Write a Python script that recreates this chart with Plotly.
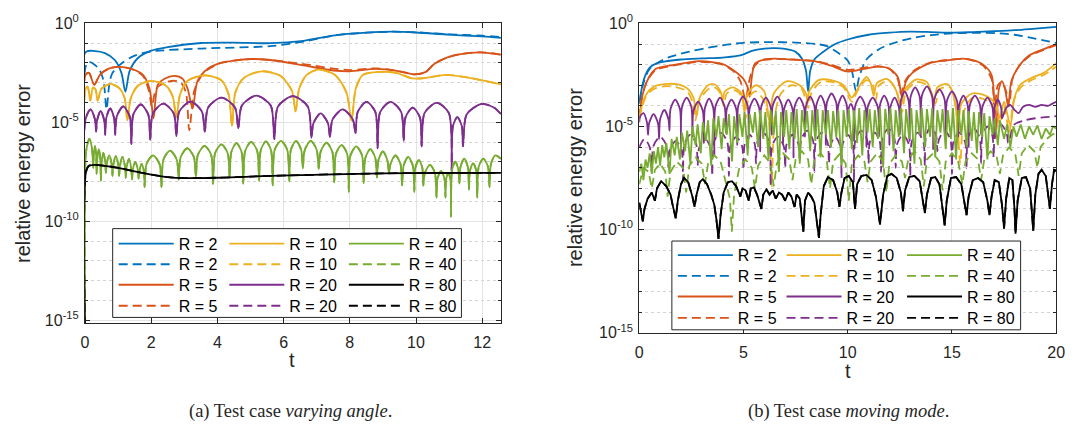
import numpy as np
import plotly.graph_objects as go

W, H = 1080, 440

# ---------------- DATA: (t, log10 of relative energy error) ----------------
# (a) Test case "varying angle"
A_R2_SOLID = [(0,-16),(0.02,-1.45),(0.3,-1.4),(0.6,-1.5),(0.9,-1.85),(1.1,-2.5),(1.22,-3.46),(1.35,-2.4),(1.6,-1.75),(2.0,-1.38),(2.5,-1.2),(3.5,-0.99),(4.5,-0.97),(5.6,-1.0),(6.6,-0.88),(7.55,-0.6),(8.5,-0.47),(9.3,-0.42),(10.0,-0.46),(11.0,-0.57),(12.0,-0.66),(12.566,-0.73)]
A_R2_DASH = [(0,-16),(0.02,-2.18),(0.12,-1.95),(0.3,-2.1),(0.44,-2.35),(0.56,-2.9),(0.65,-4.34),(0.74,-3.0),(0.83,-2.5),(1.13,-1.99),(1.5,-1.63),(2.0,-1.42),(3.5,-1.27),(5.6,-1.15),(6.6,-0.92),(7.55,-0.6),(8.5,-0.47),(9.3,-0.42),(10.0,-0.45),(11.0,-0.55),(12.0,-0.62),(12.566,-0.69)]
A_R5_SOLID = [(0,-16),(0.02,-2.6),(0.12,-2.5),(0.28,-3.1),(0.45,-2.6),(0.7,-2.3),(1.0,-2.2),(1.4,-2.3),(1.75,-2.6),(1.95,-3.3),(2.07,-4.8),(2.2,-3.1),(2.4,-2.8),(2.7,-2.65),(2.95,-2.8),(3.1,-3.3),(3.25,-4.3),(3.4,-2.9),(3.7,-2.3),(4.1,-2.0),(4.5,-1.88),(5.0,-1.8),(5.6,-1.85),(6.6,-2.12),(7.5,-2.38),(8.0,-2.42),(8.8,-2.3),(9.5,-2.42),(9.95,-2.58),(10.3,-2.45),(10.55,-2.05),(10.95,-1.72),(11.35,-1.55),(11.95,-1.46),(12.566,-1.58)]
A_R5_DASH = [(0,-16),(0.02,-2.6),(0.12,-2.5),(0.28,-3.1),(0.45,-2.6),(0.7,-2.3),(1.0,-2.2),(1.4,-2.3),(1.75,-2.65),(1.93,-3.4),(2.02,-4.2),(2.15,-3.3),(2.4,-3.0),(2.7,-2.9),(2.9,-3.0),(3.05,-3.5),(3.15,-5.4),(3.3,-3.4),(3.5,-2.7),(3.7,-2.35),(4.1,-2.0),(4.5,-1.88),(5.0,-1.8),(5.6,-1.85),(6.6,-2.06),(7.5,-2.28),(8.0,-2.36),(8.8,-2.27),(9.5,-2.42),(9.95,-2.58),(10.3,-2.45),(10.55,-2.05),(10.95,-1.72),(11.35,-1.55),(11.95,-1.46),(12.566,-1.58)]
A_R10 = [(0,-16),(0.02,-3.3),(0.08,-3.2),(0.16,-3.9),(0.24,-3.25),(0.32,-3.35),(0.38,-3.9),(0.5,-3.3),(0.78,-3.06),(1.05,-3.3),(1.2,-3.8),(1.28,-4.9),(1.38,-3.8),(1.6,-3.15),(2.02,-2.9),(2.45,-3.15),(2.65,-3.7),(2.76,-4.74),(2.87,-3.6),(3.1,-2.9),(3.6,-2.63),(4.1,-2.85),(4.34,-3.6),(4.44,-5.2),(4.54,-3.5),(4.8,-2.75),(5.35,-2.42),(5.9,-2.65),(6.25,-3.4),(6.36,-4.45),(6.47,-3.3),(6.7,-2.6),(7.05,-2.34),(7.55,-2.6),(7.9,-3.5),(8.05,-4.9),(8.18,-3.3),(8.4,-2.6),(8.9,-2.45),(9.4,-2.5),(9.9,-2.78),(10.3,-2.75),(10.9,-2.6),(11.5,-2.72),(12.0,-2.88),(12.566,-3.08)]
A_R20 = [(0,-16),(0.02,-4.82),(0.17,-4.35),(0.3,-4.85),(0.335,-5.47),(0.365,-4.9),(0.47,-4.42),(0.58,-4.9),(0.61,-5.63),(0.64,-4.8),(0.76,-4.3),(0.88,-4.8),(0.91,-5.63),(0.96,-4.7),(1.155,-4.2),(1.35,-4.7),(1.4,-6.1),(1.46,-4.6),(1.685,-4.1),(1.91,-4.6),(1.97,-5.87),(2.05,-4.55),(2.365,-4.05),(2.68,-4.55),(2.76,-5.7),(2.85,-4.45),(3.19,-3.95),(3.53,-4.45),(3.62,-5.47),(3.72,-4.25),(4.125,-3.75),(4.53,-4.25),(4.63,-5.3),(4.74,-4.15),(5.175,-3.65),(5.61,-4.15),(5.72,-5.85),(5.83,-4.2),(6.28,-3.68),(6.73,-4.2),(6.84,-5.78),(6.9,-5.05),(7.12,-4.55),(7.34,-5.05),(7.4,-5.74),(7.48,-4.85),(7.785,-4.35),(8.09,-4.85),(8.17,-5.55),(8.24,-4.47),(8.505,-3.97),(8.77,-4.47),(8.84,-6.31),(8.92,-4.47),(9.235,-3.97),(9.55,-4.47),(9.63,-5.94),(9.68,-4.76),(9.9,-4.26),(10.12,-4.76),(10.17,-6.22),(10.26,-4.52),(10.625,-4.02),(10.99,-4.52),(11.08,-7.47),(11.115,-5.2),(11.25,-4.74),(11.385,-5.2),(11.42,-6.22),(11.53,-4.6),(11.98,-4.07),(12.35,-4.25),(12.566,-4.58)]
A_R40 = [(0,-16),(0.02,-6.7),(0.06,-6.2),(0.13,-5.83),(0.21,-6.3),(0.25,-7.3),(0.265,-6.6),(0.3,-6.2),(0.335,-6.6),(0.35,-7.6),(0.37,-6.8),(0.415,-6.35),(0.46,-6.8),(0.48,-7.95),(0.5,-7.0),(0.555,-6.55),(0.61,-7.0),(0.63,-7.55),(0.655,-7.1),(0.73,-6.67),(0.805,-7.1),(0.83,-7.7),(0.855,-7.15),(0.93,-6.7),(1.005,-7.15),(1.03,-7.7),(1.055,-7.2),(1.13,-6.75),(1.205,-7.2),(1.23,-7.8),(1.255,-7.3),(1.325,-6.85),(1.395,-7.3),(1.42,-7.9),(1.445,-7.4),(1.52,-7.0),(1.595,-7.4),(1.62,-7.85),(1.64,-7.5),(1.71,-7.1),(1.78,-7.5),(1.8,-8.27),(1.86,-7.1),(2.055,-6.67),(2.25,-7.1),(2.31,-8.27),(2.37,-6.88),(2.57,-6.43),(2.77,-6.88),(2.83,-7.9),(2.89,-6.76),(3.09,-6.31),(3.29,-6.76),(3.35,-7.75),(3.41,-6.64),(3.61,-6.19),(3.81,-6.64),(3.87,-8.11),(3.93,-6.56),(4.12,-6.11),(4.31,-6.56),(4.37,-7.8),(4.42,-6.5),(4.575,-6.05),(4.73,-6.5),(4.78,-8.1),(4.84,-6.44),(5.02,-5.99),(5.2,-6.44),(5.26,-7.95),(5.31,-6.41),(5.465,-5.96),(5.62,-6.41),(5.67,-8.19),(5.73,-6.39),(5.92,-5.94),(6.11,-6.39),(6.17,-8.0),(6.22,-6.39),(6.375,-5.94),(6.53,-6.39),(6.58,-7.31),(6.64,-6.39),(6.82,-5.94),(7.0,-6.39),(7.06,-7.35),(7.12,-6.48),(7.295,-6.03),(7.47,-6.48),(7.53,-8.03),(7.58,-6.6),(7.75,-6.15),(7.92,-6.6),(7.97,-8.51),(8.02,-6.67),(8.195,-6.22),(8.37,-6.67),(8.42,-8.08),(8.47,-6.8),(8.62,-6.35),(8.77,-6.8),(8.82,-7.79),(8.865,-6.92),(9.0,-6.47),(9.135,-6.92),(9.18,-7.55),(9.23,-7.1),(9.38,-6.67),(9.53,-7.1),(9.58,-8.19),(9.625,-7.2),(9.765,-6.75),(9.905,-7.2),(9.95,-8.51),(9.98,-7.3),(10.085,-6.91),(10.19,-7.3),(10.22,-8.2),(10.27,-7.55),(10.42,-7.15),(10.57,-7.55),(10.62,-8.8),(10.65,-7.85),(10.755,-7.47),(10.86,-7.85),(10.89,-8.8),(10.91,-7.9),(10.975,-7.55),(11.04,-7.9),(11.06,-9.76),(11.09,-7.4),(11.185,-6.99),(11.28,-7.4),(11.31,-8.1),(11.345,-7.25),(11.455,-6.83),(11.565,-7.25),(11.6,-8.4),(11.63,-7.45),(11.725,-7.07),(11.82,-7.45),(11.85,-8.8),(11.895,-7.25),(12.035,-6.83),(12.175,-7.25),(12.22,-8.27),(12.265,-7.1),(12.4,-6.67),(12.566,-6.85)]
A_R80 = [(0,-16),(0.03,-7.5),(0.12,-7.2),(0.3,-7.15),(0.6,-7.2),(1.0,-7.3),(1.5,-7.48),(2.0,-7.64),(2.5,-7.77),(3.0,-7.82),(4.0,-7.8),(5.0,-7.74),(6.2,-7.68),(7.5,-7.63),(9.0,-7.58),(10.5,-7.56),(12.566,-7.55)]

# (b) Test case "moving mode"
B_R2_SOLID = [(0,-3.9),(0.15,-3.0),(0.3,-2.5),(0.5,-2.15),(0.8,-1.95),(1.2,-1.85),(2.0,-1.75),(3.0,-1.7),(4.0,-1.66),(4.7,-1.58),(5.0,-1.5),(5.4,-1.33),(6.0,-1.22),(6.5,-1.2),(7.0,-1.24),(7.5,-1.38),(7.8,-1.7),(8.0,-2.3),(8.1,-3.3),(8.2,-2.3),(8.4,-1.75),(8.8,-1.4),(9.4,-1.0),(10.0,-0.78),(11.0,-0.55),(12.0,-0.45),(13.0,-0.4),(14.0,-0.42),(15.0,-0.45),(16.0,-0.42),(17.0,-0.38),(18.0,-0.33),(19.0,-0.25),(20.0,-0.17)]
B_R2_DASH = [(0,-3.8),(0.2,-2.9),(0.5,-2.2),(0.9,-1.9),(1.4,-1.65),(2.4,-1.37),(3.2,-1.2),(4.0,-1.06),(5.0,-0.94),(6.3,-0.91),(7.5,-0.93),(8.5,-1.0),(9.0,-1.1),(9.5,-1.4),(10.0,-1.8),(10.2,-2.3),(10.4,-3.3),(10.55,-2.6),(10.9,-1.75),(11.5,-1.25),(12.2,-0.95),(13.1,-0.71),(14.0,-0.57),(15.0,-0.48),(16.0,-0.46),(17.1,-0.47),(18.0,-0.55),(18.7,-0.68),(19.4,-0.82),(20.0,-0.94)]
B_R5_SOLID = [(0,-4.6),(0.15,-3.5),(0.33,-2.9),(0.6,-2.4),(0.8,-2.2),(1.6,-2.02),(2.3,-1.9),(2.9,-1.83),(3.5,-1.88),(4.0,-1.97),(4.6,-2.33),(5.0,-2.7),(5.2,-3.1),(5.3,-3.56),(5.4,-2.6),(5.55,-1.95),(6.0,-1.75),(6.5,-1.71),(7.2,-1.75),(7.9,-1.79),(8.5,-1.85),(9.2,-2.05),(10.0,-2.33),(10.8,-2.2),(11.5,-2.1),(12.0,-2.2),(12.4,-2.6),(12.6,-3.56),(12.8,-2.8),(13.1,-2.4),(13.9,-1.94),(14.7,-1.8),(15.5,-1.71),(16.0,-1.78),(16.5,-2.0),(16.9,-2.5),(17.1,-5.57),(17.25,-3.2),(17.4,-2.8),(17.55,-3.2),(17.7,-4.03),(17.85,-2.8),(18.2,-2.1),(18.7,-1.56),(19.4,-1.25),(20.0,-1.02)]
B_R5_DASH = [(0,-4.6),(0.15,-3.5),(0.33,-2.9),(0.6,-2.45),(0.8,-2.25),(1.6,-2.05),(2.3,-1.93),(2.9,-1.86),(3.5,-1.9),(4.0,-2.0),(4.5,-2.3),(4.85,-2.8),(5.1,-3.7),(5.25,-2.9),(5.45,-2.2),(5.7,-1.9),(6.0,-1.77),(6.5,-1.72),(7.2,-1.74),(7.9,-1.78),(8.5,-1.83),(9.2,-2.0),(10.0,-2.25),(10.8,-2.15),(11.5,-2.08),(12.0,-2.2),(12.4,-2.7),(12.55,-3.4),(12.75,-2.8),(13.1,-2.35),(13.9,-1.92),(14.7,-1.78),(15.5,-1.72),(16.0,-1.8),(16.5,-2.05),(16.9,-2.7),(17.05,-4.5),(17.2,-3.0),(17.4,-2.85),(17.6,-3.3),(17.75,-4.0),(17.9,-2.7),(18.2,-2.1),(18.7,-1.6),(19.4,-1.28),(20.0,-1.05)]
B_R10_SOLID = [(0,-4.5),(0.3,-3.5),(0.65,-3.1),(1.2,-2.95),(1.8,-2.95),(2.3,-3.15),(2.6,-3.6),(2.75,-4.5),(2.9,-3.6),(3.3,-3.0),(3.6,-2.95),(3.9,-3.3),(4.0,-3.7),(4.1,-3.3),(4.5,-3.1),(4.9,-3.4),(5.05,-4.3),(5.2,-3.4),(5.6,-3.0),(6.0,-3.3),(6.25,-4.8),(6.45,-3.4),(7.1,-2.8),(7.7,-3.0),(8.0,-3.4),(8.07,-3.9),(8.15,-3.3),(8.6,-2.75),(9.2,-2.75),(9.8,-3.0),(10.2,-3.6),(10.4,-3.3),(10.9,-2.6),(11.1,-2.9),(11.25,-3.5),(11.4,-2.9),(11.9,-2.7),(12.3,-3.2),(12.55,-4.0),(12.75,-3.2),(13.3,-2.72),(13.8,-2.85),(14.15,-3.7),(14.3,-3.1),(14.8,-2.95),(15.15,-3.8),(15.3,-5.88),(15.45,-3.9),(15.97,-3.4),(16.6,-3.5),(17.1,-3.9),(17.3,-4.6),(17.5,-3.8),(17.8,-4.95),(18.0,-3.6),(18.3,-2.95),(18.8,-2.65),(19.4,-2.4),(20.0,-1.94)]
B_R10_DASH = [(0,-4.6),(0.3,-3.6),(0.65,-3.2),(1.2,-3.05),(1.8,-3.1),(2.3,-3.3),(2.55,-3.8),(2.7,-4.7),(2.85,-3.8),(3.3,-3.2),(3.6,-3.1),(3.9,-3.4),(4.05,-4.0),(4.2,-3.4),(4.6,-3.25),(4.95,-3.6),(5.1,-4.6),(5.25,-3.6),(5.6,-3.3),(5.95,-3.7),(6.2,-4.6),(6.35,-7.9),(6.5,-4.5),(6.8,-3.4),(7.3,-3.0),(7.8,-3.2),(8.1,-4.1),(8.25,-3.4),(8.7,-2.85),(9.3,-2.85),(9.8,-3.1),(10.2,-3.8),(10.45,-3.3),(10.9,-2.75),(11.2,-3.0),(11.35,-3.7),(11.5,-3.0),(12.0,-2.8),(12.35,-3.3),(12.6,-4.3),(12.8,-3.3),(13.3,-2.85),(13.8,-3.0),(14.2,-3.9),(14.4,-3.2),(14.9,-3.1),(15.2,-4.2),(15.4,-6.8),(15.6,-4.2),(16.0,-3.6),(16.6,-3.7),(17.1,-4.1),(17.3,-4.9),(17.5,-4.0),(17.75,-5.3),(17.95,-3.8),(18.3,-3.1),(18.8,-2.75),(19.4,-2.5),(20.0,-2.1)]
B_R20_SOLID = [(0,-4.8),(0.05,-4.5),(0.2,-4.35),(0.37,-4.8),(0.42,-5.4),(0.47,-4.85),(0.685,-4.4),(0.9,-4.85),(0.95,-5.6),(1.0,-4.65),(1.2,-4.2),(1.4,-4.65),(1.45,-5.2),(1.5,-4.15),(1.725,-3.7),(1.95,-4.15),(2.0,-6.0),(2.05,-4.05),(2.275,-3.6),(2.5,-4.05),(2.55,-5.5),(2.6,-4.25),(2.825,-3.8),(3.05,-4.25),(3.1,-5.8),(3.15,-4.1),(3.35,-3.65),(3.55,-4.1),(3.6,-6.4),(3.65,-4.05),(3.875,-3.6),(4.1,-4.05),(4.15,-5.3),(4.2,-4.15),(4.425,-3.7),(4.65,-4.15),(4.7,-5.9),(4.75,-4.0),(4.975,-3.55),(5.2,-4.0),(5.25,-5.6),(5.3,-4.1),(5.525,-3.65),(5.75,-4.1),(5.8,-6.2),(5.85,-4.05),(6.075,-3.6),(6.3,-4.05),(6.35,-5.4),(6.4,-4.0),(6.625,-3.55),(6.85,-4.0),(6.9,-5.8),(6.95,-4.15),(7.15,-3.7),(7.35,-4.15),(7.4,-6.5),(7.45,-4.05),(7.675,-3.6),(7.9,-4.05),(7.95,-5.5),(8.0,-4.0),(8.2,-3.55),(8.4,-4.0),(8.45,-5.2),(8.5,-3.95),(8.7,-3.5),(8.9,-3.95),(8.95,-5.9),(9.0,-3.85),(9.225,-3.4),(9.45,-3.85),(9.5,-5.0),(9.55,-3.95),(9.75,-3.5),(9.95,-3.95),(10.0,-4.8),(10.03,-4.2),(10.15,-3.9),(10.27,-4.2),(10.3,-5.7),(10.36,-4.0),(10.6,-3.55),(10.84,-4.0),(10.9,-6.0),(10.96,-4.05),(11.2,-3.6),(11.44,-4.05),(11.5,-5.5),(11.55,-3.95),(11.75,-3.5),(11.95,-3.95),(12.0,-5.9),(12.05,-4.05),(12.25,-3.6),(12.45,-4.05),(12.5,-5.4),(12.55,-3.75),(12.735,-3.3),(12.92,-3.75),(12.97,-5.72),(13.02,-3.55),(13.235,-3.1),(13.45,-3.55),(13.5,-5.5),(13.56,-3.5),(13.8,-3.05),(14.04,-3.5),(14.1,-6.1),(14.16,-3.65),(14.4,-3.2),(14.64,-3.65),(14.7,-5.6),(14.76,-3.75),(15.0,-3.3),(15.24,-3.75),(15.3,-5.5),(15.35,-3.95),(15.55,-3.5),(15.75,-3.95),(15.8,-6.0),(15.86,-3.95),(16.1,-3.5),(16.34,-3.95),(16.4,-5.4),(16.46,-4.05),(16.7,-3.6),(16.94,-4.05),(17.0,-5.5),(17.04,-4.1),(17.2,-3.7),(17.36,-4.1),(17.4,-4.6),(17.6,-4.1),(17.8,-3.95),(18.0,-4.2),(18.2,-4.35),(18.4,-4.05),(18.7,-3.95),(19.0,-4.05),(19.3,-3.95),(19.6,-4.0),(19.8,-3.9),(20.0,-3.8)]
B_R20_DASH = [(0,-6.0),(0.25,-5.6),(0.5,-6.0),(0.6,-7.2),(0.68,-5.95),(1.0,-5.5),(1.32,-5.95),(1.4,-7.0),(1.47,-6.15),(1.75,-5.7),(2.03,-6.15),(2.1,-7.6),(2.17,-5.85),(2.45,-5.4),(2.73,-5.85),(2.8,-6.9),(2.87,-6.05),(3.15,-5.6),(3.43,-6.05),(3.5,-7.4),(3.58,-5.75),(3.9,-5.3),(4.22,-5.75),(4.3,-7.4),(4.37,-5.95),(4.65,-5.5),(4.93,-5.95),(5.0,-7.1),(5.06,-5.85),(5.3,-5.4),(5.54,-5.85),(5.6,-6.8),(5.67,-5.75),(5.95,-5.3),(6.23,-5.75),(6.3,-7.9),(6.37,-5.95),(6.65,-5.5),(6.93,-5.95),(7.0,-7.0),(7.07,-5.85),(7.35,-5.4),(7.63,-5.85),(7.7,-6.6),(7.77,-5.65),(8.05,-5.2),(8.33,-5.65),(8.4,-7.2),(8.47,-5.75),(8.75,-5.3),(9.03,-5.75),(9.1,-6.8),(9.16,-5.95),(9.4,-5.5),(9.64,-5.95),(9.7,-7.5),(9.76,-5.85),(10.0,-5.4),(10.24,-5.85),(10.3,-7.7),(10.37,-5.65),(10.65,-5.2),(10.93,-5.65),(11.0,-6.8),(11.06,-5.75),(11.3,-5.3),(11.54,-5.75),(11.6,-7.2),(11.67,-5.55),(11.95,-5.1),(12.23,-5.55),(12.3,-7.0),(12.37,-5.85),(12.65,-5.4),(12.93,-5.85),(13.0,-7.4),(13.07,-5.75),(13.35,-5.3),(13.63,-5.75),(13.7,-6.9),(13.76,-5.45),(14.0,-5.0),(14.24,-5.45),(14.3,-6.2),(14.37,-5.65),(14.65,-5.2),(14.93,-5.65),(15.0,-7.3),(15.07,-5.75),(15.35,-5.3),(15.63,-5.75),(15.7,-7.0),(15.77,-5.55),(16.05,-5.1),(16.33,-5.55),(16.4,-6.8),(16.46,-5.45),(16.7,-5.0),(16.94,-5.45),(17.0,-6.5),(17.07,-5.35),(17.35,-4.9),(17.63,-5.35),(17.7,-5.8),(18.0,-4.9),(18.5,-4.7),(19.0,-4.6),(19.5,-4.55),(20.0,-4.5)]
B_R40_SOLID = [(0.0,-7.2),(0.1,-6.8),(0.2,-7.6),(0.3,-6.6),(0.4,-7.0),(0.5,-6.3),(0.6,-7.3),(0.7,-6.2),(0.8,-6.8),(0.9,-6.0),(1.0,-6.9),(1.1,-5.9),(1.2,-6.5),(1.3,-5.8),(1.45,-7.3),(1.55,-5.6),(1.7,-6.4),(1.8,-5.5),(1.95,-6.6),(2.05,-5.3),(2.2,-6.2),(2.3,-5.2),(2.45,-6.8),(2.55,-5.0),(2.7,-5.9),(2.8,-4.9),(2.95,-6.3),(3.05,-4.8),(3.2,-5.7),(3.3,-4.7),(3.45,-6.9),(3.55,-4.6),(3.7,-5.5),(3.8,-4.5),(3.95,-6.1),(4.05,-4.6),(4.2,-5.4),(4.3,-4.4),(4.45,-6.7),(4.55,-4.5),(4.7,-5.8),(4.8,-4.4),(4.95,-5.5),(5.05,-4.3),(5.2,-6.4),(5.3,-4.4),(5.45,-5.3),(5.55,-4.3),(5.7,-6.0),(5.8,-4.2),(5.95,-5.6),(6.05,-4.3),(6.2,-6.6),(6.3,-4.2),(6.45,-5.4),(6.55,-4.25),(6.7,-7.2),(6.8,-4.3),(6.95,-5.5),(7.05,-4.2),(7.2,-6.1),(7.3,-4.3),(7.45,-5.6),(7.55,-4.15),(7.7,-6.8),(7.8,-4.2),(7.95,-5.3),(8.05,-4.25),(8.2,-6.2),(8.3,-4.2),(8.45,-5.7),(8.55,-4.15),(8.7,-6.5),(8.8,-4.2),(8.95,-5.4),(9.05,-4.2),(9.2,-6.0),(9.3,-4.25),(9.45,-5.5),(9.55,-4.2),(9.7,-6.9),(9.8,-4.2),(9.95,-5.5),(10.05,-4.15),(10.2,-6.1),(10.3,-4.2),(10.45,-5.8),(10.55,-4.1),(10.7,-6.4),(10.8,-4.2),(10.95,-5.3),(11.05,-4.15),(11.2,-6.0),(11.3,-4.2),(11.45,-5.6),(11.55,-4.1),(11.7,-7.0),(11.8,-4.15),(11.95,-5.4),(12.05,-4.1),(12.2,-6.2),(12.3,-4.2),(12.45,-5.5),(12.55,-4.1),(12.7,-6.3),(12.8,-4.15),(12.95,-5.6),(13.05,-4.1),(13.2,-6.8),(13.3,-4.2),(13.45,-5.4),(13.55,-4.1),(13.7,-6.0),(13.8,-4.15),(13.95,-5.5),(14.05,-4.1),(14.2,-6.5),(14.3,-4.2),(14.45,-5.3),(14.55,-4.15),(14.7,-6.1),(14.8,-4.2),(14.95,-5.6),(15.05,-4.1),(15.2,-6.6),(15.3,-4.2),(15.45,-5.4),(15.55,-4.2),(15.7,-6.0),(15.8,-4.25),(15.95,-5.7),(16.05,-4.3),(16.2,-6.3),(16.3,-4.3),(16.45,-5.5),(16.55,-4.35),(16.7,-6.6),(16.8,-4.5),(16.95,-5.4),(17.05,-4.6),(17.2,-5.9),(17.3,-4.7),(17.5,-5.6),(17.65,-4.9),(17.8,-6.0),(17.95,-5.0),(18.1,-5.5),(18.3,-4.9),(18.5,-5.6),(18.7,-5.0),(18.9,-5.4),(19.1,-4.95),(19.3,-5.6),(19.5,-5.1),(19.7,-5.4),(19.85,-5.0),(20.0,-5.1)]
B_R40_DASH = [(0,-7.8),(0.2,-7.0),(0.45,-7.2),(0.6,-8.0),(0.75,-7.1),(1.0,-6.8),(1.25,-7.2),(1.36,-8.4),(1.5,-7.2),(1.8,-6.7),(2.1,-7.0),(2.25,-8.2),(2.4,-6.9),(2.7,-6.5),(3.0,-6.8),(3.15,-7.8),(3.3,-6.8),(3.6,-6.4),(3.9,-6.7),(4.1,-7.5),(4.35,-8.5),(4.44,-10.1),(4.55,-8.3),(4.8,-7.0),(5.1,-6.6),(5.4,-7.0),(5.55,-8.0),(5.7,-6.9),(6.0,-6.4),(6.3,-6.8),(6.45,-7.9),(6.6,-6.8),(6.9,-6.3),(7.2,-6.6),(7.35,-7.6),(7.5,-6.6),(7.8,-6.2),(8.1,-6.6),(8.25,-7.8),(8.4,-6.6),(8.7,-6.3),(9.0,-6.7),(9.15,-8.0),(9.3,-6.7),(9.6,-6.35),(9.9,-6.8),(10.05,-8.6),(10.2,-6.8),(10.5,-6.4),(10.8,-6.7),(10.95,-7.7),(11.1,-6.7),(11.4,-6.3),(11.7,-6.7),(11.85,-8.2),(12.0,-6.8),(12.3,-6.4),(12.6,-6.7),(12.75,-7.5),(12.9,-6.6),(13.2,-6.2),(13.5,-6.6),(13.65,-7.9),(13.8,-6.6),(14.1,-6.3),(14.4,-6.7),(14.55,-8.1),(14.7,-6.7),(15.0,-6.3),(15.3,-6.7),(15.5,-7.8),(15.65,-6.7),(15.95,-6.3),(16.25,-6.6),(16.4,-7.6),(16.55,-6.6),(16.85,-6.2),(17.15,-6.5),(17.3,-7.3),(17.45,-6.4),(17.75,-6.0),(18.05,-6.4),(18.2,-7.4),(18.35,-6.3),(18.65,-5.9),(18.95,-6.2),(19.1,-7.0),(19.25,-6.0),(19.55,-5.6),(19.8,-5.4),(20.0,-5.3)]
B_R80 = [(0,-8.7),(0.1,-9.2),(0.17,-9.6),(0.25,-9.0),(0.4,-8.5),(0.6,-8.2),(0.75,-8.6),(0.85,-8.0),(1.05,-7.65),(1.3,-7.9),(1.5,-8.3),(1.6,-8.8),(1.75,-9.45),(1.85,-8.6),(2.0,-7.8),(2.15,-7.5),(2.35,-7.7),(2.55,-8.4),(2.65,-8.9),(2.75,-8.3),(2.9,-7.7),(3.05,-7.55),(3.25,-7.8),(3.45,-8.3),(3.6,-8.8),(3.7,-9.5),(3.8,-10.45),(3.9,-9.3),(4.05,-8.2),(4.25,-7.7),(4.45,-7.65),(4.65,-7.9),(4.85,-8.4),(4.95,-8.0),(5.1,-8.1),(5.25,-8.6),(5.35,-8.0),(5.5,-7.95),(5.65,-8.3),(5.86,-9.0),(5.95,-8.3),(6.1,-8.05),(6.25,-8.3),(6.4,-8.1),(6.55,-8.5),(6.7,-8.2),(6.85,-8.3),(7.0,-8.6),(7.15,-8.2),(7.3,-8.4),(7.45,-8.9),(7.55,-8.3),(7.7,-8.5),(7.87,-10.1),(7.95,-8.6),(8.1,-8.2),(8.25,-8.4),(8.4,-8.7),(8.5,-9.4),(8.62,-10.4),(8.7,-9.3),(8.85,-7.9),(9.05,-7.45),(9.3,-7.6),(9.5,-8.2),(9.6,-8.9),(9.7,-8.2),(9.85,-7.5),(10.05,-7.4),(10.25,-7.7),(10.35,-9.0),(10.45,-7.8),(10.65,-7.4),(10.9,-7.35),(11.15,-7.6),(11.35,-8.4),(11.55,-9.75),(11.7,-8.3),(11.9,-7.4),(12.1,-7.3),(12.35,-7.5),(12.55,-8.2),(12.65,-9.1),(12.75,-8.1),(12.95,-7.45),(13.2,-7.4),(13.45,-7.65),(13.6,-8.5),(13.7,-9.2),(13.8,-8.3),(14.0,-7.5),(14.2,-7.45),(14.4,-7.8),(14.55,-9.0),(14.65,-9.8),(14.75,-8.6),(14.95,-7.5),(15.2,-7.45),(15.45,-7.8),(15.6,-8.7),(15.7,-9.3),(15.8,-8.4),(16.0,-7.6),(16.25,-7.5),(16.5,-7.7),(16.7,-8.6),(16.8,-9.3),(16.9,-8.4),(17.05,-7.6),(17.25,-7.7),(17.4,-8.8),(17.5,-9.95),(17.6,-8.5),(17.75,-7.5),(17.9,-7.6),(18.0,-9.0),(18.05,-10.2),(18.15,-8.6),(18.35,-7.5),(18.55,-7.45),(18.75,-8.0),(18.9,-10.05),(19.0,-8.3),(19.15,-7.3),(19.3,-7.1),(19.5,-7.4),(19.62,-8.4),(19.7,-9.0),(19.8,-7.8),(19.9,-7.1),(20.0,-7.15)]

COLORS = {2: '#0072BD', 5: '#D95319', 10: '#EDB120', 20: '#7E2F8E', 40: '#77AC30', 80: '#000000'}

# series per panel: (R, solid data, dashed data)
PANEL_A = [(2, A_R2_SOLID, A_R2_DASH), (5, A_R5_SOLID, A_R5_DASH), (10, A_R10, A_R10),
           (20, A_R20, A_R20), (40, A_R40, A_R40), (80, A_R80, A_R80)]
PANEL_B = [(2, B_R2_SOLID, B_R2_DASH), (5, B_R5_SOLID, B_R5_DASH), (10, B_R10_SOLID, B_R10_DASH),
           (20, B_R20_SOLID, B_R20_DASH), (40, B_R40_SOLID, B_R40_DASH), (80, B_R80, B_R80)]

FONT = 'Liberation Sans'
AX_COLOR = '#262626'
DASH = '9px,5px'
LEG_FONT = 16
LEG_ITEM_H = LEG_FONT * 1.3 + 3

# legend layout (pixels): text start of each column, centre of each row
LEG_A_COLS = [176, 288, 409]
LEG_A_ROWS = [243, 264.5, 286, 308]
LEG_B_COLS = [742, 852, 974]
LEG_B_ROWS = [255, 276.7, 298.3, 320.7]

fig = go.Figure()
legend_layouts = {}
counter = [0]

def add_panel(series, xa, ya, cols, rows, spline_set):
    j = 0
    for R, solid, dashed in series:
        for data, dash in ((solid, 'solid'), (dashed, DASH)):
            counter[0] += 1
            lname = 'legend' if counter[0] == 1 else 'legend%d' % counter[0]
            c, r = j // 4, j % 4
            left = cols[c] - 65
            top = rows[r] - LEG_ITEM_H / 2 - 5
            legend_layouts[lname] = dict(
                x=left / W, y=1 - top / H, xanchor='left', yanchor='top', orientation='v',
                bgcolor='rgba(0,0,0,0)', borderwidth=0, itemwidth=55,
                font=dict(family=FONT, size=LEG_FONT, color='#000000'),
                itemclick=False, itemdoubleclick=False)
            t = [p[0] for p in data]
            e = np.power(10.0, [p[1] for p in data])
            fig.add_trace(go.Scatter(
                x=t, y=e, mode='lines', xaxis=xa, yaxis=ya, name='R = %d' % R, legend=lname,
                line=dict(color=COLORS[R], width=1.8, dash=dash,
                          shape='spline' if R in spline_set else 'linear', smoothing=0.8),
                hoverinfo='skip'))
            j += 1

add_panel(PANEL_A, 'x', 'y', LEG_A_COLS, LEG_A_ROWS, {2, 5, 10, 20, 40, 80})
add_panel(PANEL_B, 'x2', 'y2', LEG_B_COLS, LEG_B_ROWS, {2, 5, 10, 20})

# ---------------- layout ----------------
ytickvals = [1, 1e-5, 1e-10, 1e-15]
yticktext = ['10<sup>0</sup>', '10<sup>-5</sup>', '10<sup>-10</sup>', '10<sup>-15</sup>']
yminor = [10.0 ** (-k) for k in range(1, 16) if k % 5 != 0]

def yaxis_cfg(domain, rng, anchor):
    return dict(type='log', domain=domain, range=rng, tickvals=ytickvals, ticktext=yticktext,
                anchor=anchor, ticks='inside', ticklen=5, tickcolor=AX_COLOR, showline=True,
                linecolor=AX_COLOR, linewidth=1, mirror='allticks', showgrid=True,
                gridcolor='#e3e3e3', gridwidth=1, zeroline=False, ticklabelstandoff=2,
                tickfont=dict(family=FONT, size=16, color=AX_COLOR),
                minor=dict(tickvals=yminor, ticks='inside', ticklen=3, tickcolor=AX_COLOR,
                           showgrid=True, gridcolor='#d2d2d2', griddash='dot', gridwidth=1))

def xaxis_cfg(domain, rng, tv, anchor):
    return dict(domain=domain, range=rng, tickvals=tv, anchor=anchor,
                ticks='inside', ticklen=5, tickcolor=AX_COLOR, showline=True, linecolor=AX_COLOR,
                linewidth=1, mirror='allticks', showgrid=True, gridcolor='#e3e3e3', gridwidth=1,
                zeroline=False, ticklabelstandoff=5,
                tickfont=dict(family=FONT, size=16, color=AX_COLOR))

fig.update_layout(
    width=W, height=H, margin=dict(l=0, r=0, t=0, b=0),
    paper_bgcolor='white', plot_bgcolor='white', showlegend=True,
    xaxis=xaxis_cfg([82 / W, 503 / W], [0, 4 * np.pi], [0, 2, 4, 6, 8, 10, 12], 'y'),
    yaxis=yaxis_cfg([1 - 327 / H, 1 - 13 / H], [-15.15, 0], 'x'),
    xaxis2=xaxis_cfg([643 / W, 1065 / W], [0, 20], [0, 5, 10, 15, 20], 'y2'),
    yaxis2=yaxis_cfg([1 - 337 / H, 1 - 13 / H], [-15, 0], 'x2'),
    **legend_layouts
)

# legend frames
for (x0, y0, x1, y1) in [(110, 228, 463, 321), (676, 241, 1029, 334)]:
    fig.add_shape(type='rect', xref='paper', yref='paper', x0=x0 / W, x1=x1 / W,
                  y0=1 - y1 / H, y1=1 - y0 / H, fillcolor='white',
                  line=dict(color=AX_COLOR, width=1), layer='above')

def ann(text, xp, yp, size, angle=0, family=FONT):
    fig.add_annotation(text=text, x=xp / W, y=1 - yp / H, xref='paper', yref='paper',
                       showarrow=False, textangle=angle, xanchor='center', yanchor='middle',
                       font=dict(family=family, size=size, color=AX_COLOR))

ann('relative energy error', 20, 170, 20, -90)
ann('relative energy error', 578, 175, 20, -90)
ann('t', 292, 366, 20)
ann('t', 854, 377, 20)
ann('(a) Test case <i>varying angle</i>.', 290, 420, 18.5, family='Liberation Serif')
ann('(b) Test case <i>moving mode</i>.', 855, 420, 18.5, family='Liberation Serif')

fig.write_html('out.html')
